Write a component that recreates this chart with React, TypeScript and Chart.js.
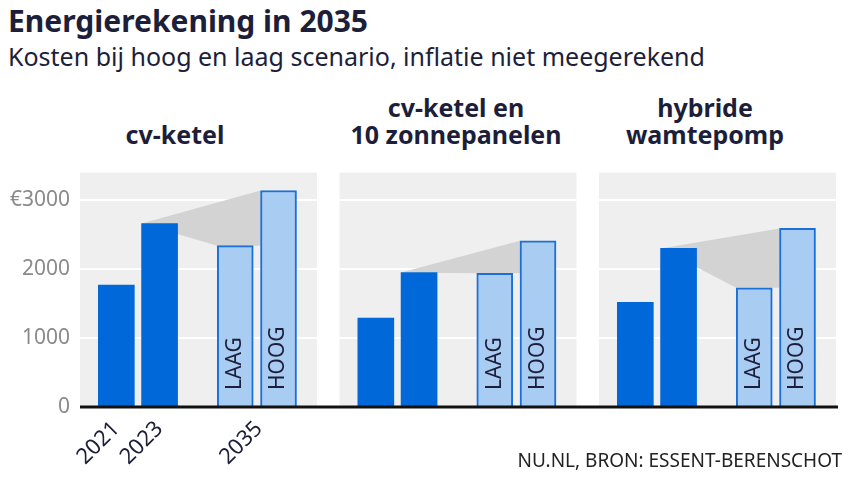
import React, { useEffect, useRef } from "react";
import { Chart, registerables } from "chart.js";

Chart.register(...registerables);

// ---- data ----
const panelTitles = [["cv-ketel"], ["cv-ketel en", "10 zonnepanelen"], ["hybride", "wamtepomp"]];
const seriesNames = ["2021", "2023", "2035 laag", "2035 hoog"];
const cost2021 = [1770, 1290, 1520];
const cost2023 = [2660, 1950, 2300];
const laag2035 = [2340, 1940, 1730];
const hoog2035 = [3140, 2410, 2590];
const barLabels = ["", "", "LAAG", "HOOG"];
const xTickLabels = ["2021", "2023", "2035"];
const yTickValues = [0, 1000, 2000, 3000];
const yTickLabels = ["0", "1000", "2000", "€3000"];

// ---- layout (positions in x-axis units) ----
const PITCH = 6;
const OFFSETS = [0, 1, 2.75, 3.75];
const BG_START = -0.84;
const BG_END = 4.64;
const xTickPos = [0, 1, 3.3];

const DARK = "#0068d8";
const LIGHT = "#a9cdf2";
const LIGHT_BORDER = "#1a70d8";
const TEXT = "#1c1e3a";
const FONT = "'Noto Sans', sans-serif";

function App() {
  const ref = useRef<HTMLCanvasElement>(null);

  useEffect(() => {
    const canvas = ref.current!;
    Chart.defaults.font.family = FONT;
    const all = [cost2021, cost2023, laag2035, hoog2035];
    const datasets = all.map((vals, si) => ({
      label: seriesNames[si],
      data: vals.map((v, p) => ({ x: p * PITCH + OFFSETS[si], y: v })),
      backgroundColor: si < 2 ? DARK : LIGHT,
      borderColor: si < 2 ? DARK : LIGHT_BORDER,
      borderWidth: si < 2 ? 0 : 2,
      barThickness: 36,
      grouped: false,
    }));

    const panelPlugin = {
      id: "panels",
      beforeDraw(chart: any) {
        const { ctx, chartArea } = chart;
        const xs = chart.scales.x;
        ctx.save();
        ctx.fillStyle = "#efefef";
        for (let p = 0; p < 3; p++) {
          const x0 = xs.getPixelForValue(p * PITCH + BG_START);
          const x1 = xs.getPixelForValue(p * PITCH + BG_END);
          ctx.fillRect(x0, chartArea.top, x1 - x0, chartArea.bottom - chartArea.top);
        }
        ctx.restore();
      },
      beforeDatasetsDraw(chart: any) {
        const { ctx } = chart;
        ctx.save();
        ctx.fillStyle = "#d3d3d3";
        for (let p = 0; p < 3; p++) {
          const a = chart.getDatasetMeta(1).data[p];
          const l = chart.getDatasetMeta(2).data[p];
          const h = chart.getDatasetMeta(3).data[p];
          ctx.beginPath();
          ctx.moveTo(a.x - a.width / 2, a.y);
          ctx.lineTo(h.x - h.width / 2, h.y);
          ctx.lineTo(h.x - h.width / 2, l.y);
          ctx.lineTo(l.x - l.width / 2, l.y);
          ctx.closePath();
          ctx.fill();
        }
        ctx.restore();
      },
      afterDatasetsDraw(chart: any) {
        const { ctx, chartArea } = chart;
        ctx.save();
        ctx.fillStyle = TEXT;
        ctx.font = `21px ${FONT}`;
        ctx.textAlign = "left";
        ctx.textBaseline = "middle";
        for (let si = 0; si < 4; si++) {
          if (!barLabels[si]) continue;
          chart.getDatasetMeta(si).data.forEach((el: any) => {
            ctx.save();
            ctx.translate(el.x, chartArea.bottom - 17);
            ctx.rotate(-Math.PI / 2);
            ctx.fillText(barLabels[si], 0, 0);
            ctx.restore();
          });
        }
        ctx.strokeStyle = "#111";
        ctx.lineWidth = 3;
        ctx.beginPath();
        ctx.moveTo(chartArea.left, chartArea.bottom);
        ctx.lineTo(chartArea.right + 2, chartArea.bottom);
        ctx.stroke();
        ctx.restore();
      },
    };

    const chart = new Chart(canvas, {
      type: "bar",
      data: { datasets } as any,
      options: {
        animation: false,
        responsive: false,
        events: [],
        layout: { padding: { top: 20, right: 18, left: 0, bottom: 0 } },
        plugins: { legend: { display: false }, tooltip: { enabled: false }, title: { display: false } },
        scales: {
          x: {
            type: "linear",
            offset: false,
            min: -0.84,
            max: 16.64,
            afterBuildTicks: (s: any) => {
              s.ticks = xTickPos.map((v) => ({ value: v }));
            },
            afterFit: (s: any) => {
              s.height = 73;
            },
            grid: { display: false, offset: false },
            border: { display: false },
            ticks: {
              autoSkip: false,
              minRotation: 45,
              maxRotation: 45,
              padding: 1,
              color: TEXT,
              font: { size: 22 },
              callback: (_v: any, i: number) => xTickLabels[i],
            },
          },
          y: {
            min: 0,
            max: 3400,
            afterBuildTicks: (s: any) => {
              s.ticks = yTickValues.map((v) => ({ value: v }));
            },
            afterFit: (s: any) => {
              s.width = 80;
            },
            grid: { color: "#ffffff", lineWidth: 2, drawTicks: false },
            border: { display: false },
            ticks: {
              padding: 10,
              color: "#8a8a8a",
              font: { size: 21 },
              callback: (_v: any, i: number) => yTickLabels[i],
            },
          },
        },
      },
      plugins: [panelPlugin],
    } as any);
    return () => chart.destroy();
  }, []);

  const centers = [175, 456, 705];

  return (
    <div style={{ position: "fixed", left: 0, top: 0, width: 854, height: 480, background: "#fff", fontFamily: FONT, color: TEXT, overflow: "hidden" }}>
      <div style={{ position: "absolute", left: 8, top: 6, fontSize: 30, lineHeight: "30px", fontWeight: 700, whiteSpace: "nowrap" }}>
        Energierekening in 2035
      </div>
      <div style={{ position: "absolute", left: 8, top: 44, fontSize: 25, lineHeight: "25px", whiteSpace: "nowrap" }}>
        Kosten bij hoog en laag scenario, inflatie niet meegerekend
      </div>
      {panelTitles.map((lines, i) => (
        <div
          key={i}
          style={{
            position: "absolute",
            left: centers[i] - 150,
            width: 300,
            top: 93,
            height: 55,
            display: "flex",
            flexDirection: "column",
            justifyContent: "flex-end",
            alignItems: "center",
            fontSize: 25,
            lineHeight: "27px",
            fontWeight: 700,
            whiteSpace: "nowrap",
          }}
        >
          {lines.map((l, j) => (
            <div key={j}>{l}</div>
          ))}
        </div>
      ))}
      <canvas ref={ref} width={854} height={330} style={{ position: "absolute", left: 0, top: 150, width: 854, height: 330 }} />
      <div style={{ position: "absolute", right: 12, top: 451, fontSize: 19, lineHeight: "19px", color: "#222", whiteSpace: "nowrap" }}>
        NU.NL, BRON: ESSENT-BERENSCHOT
      </div>
    </div>
  );
}

export default App;
